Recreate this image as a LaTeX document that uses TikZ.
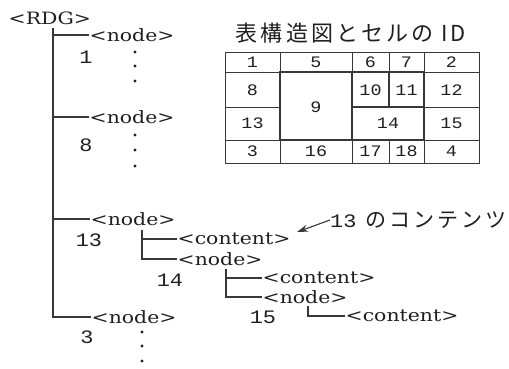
\documentclass[tikz,border=0pt]{standalone}
\usepackage{fontspec}
\usetikzlibrary{arrows.meta}
\newfontfamily\lblfont{DejaVu Serif}[FakeStretch=1.2]
\newfontfamily\digfont{Liberation Mono}[FakeStretch=1.15]
\newfontfamily\cjkfont{Noto Sans CJK JP}[LetterSpace=14]
\definecolor{ink}{gray}{0.12}
\definecolor{linec}{gray}{0.22}
\begin{document}
\begin{tikzpicture}[x=1pt,y=-1pt,
  tag/.style={inner sep=0.5pt, anchor=west, text=ink, font=\lblfont\fontsize{17}{20}\selectfont},
  num/.style={inner sep=0pt, text=ink, font=\digfont\fontsize{19}{22}\selectfont},
  cellnum/.style={inner sep=0pt, text=ink, font=\digfont\fontsize{16}{18}\selectfont},
  tree/.style={draw=linec, line width=1.1pt},
  gridline/.style={draw=linec, line width=1pt},
  thickgrid/.style={draw=linec, line width=2pt},
]
\useasboundingbox (0,0) rectangle (509,368);

% ---- tree ----
\node[tag] (rdg) at (8,18) {<RDG>};
\coordinate (k0) at (53,28);
\node[tag] (n1) at (89,35) {<node>};
\node[tag] (n8) at (89,117) {<node>};
\node[tag] (n13) at (90,219) {<node>};
\node[tag] (n3) at (91,317) {<node>};
\draw[tree] (k0) |- (n3.west);
\draw[tree] (k0 |- n1.west) -- (n1.west);
\draw[tree] (k0 |- n8.west) -- (n8.west);
\draw[tree] (k0 |- n13.west) -- (n13.west);

\node[num] (l1) at (86,57) {1};
\node[num] (l8) at (86,145) {8};
\node[num] (l13) at (89,240) {13};
\node[num] (l14) at (170,280) {14};
\node[num] (l15) at (263,317) {15};
\node[num] (l3) at (87,337) {3};

\coordinate (k13) at (142,230);
\node[tag] (c13) at (177,239) {<content>};
\node[tag] (n14) at (177,259) {<node>};
\draw[tree] (k13) |- (c13.west);
\draw[tree] (k13) |- (n14.west);

\coordinate (k14) at (226,269);
\node[tag] (c14) at (262,278) {<content>};
\node[tag] (n15) at (262,297) {<node>};
\draw[tree] (k14) |- (c14.west);
\draw[tree] (k14) |- (n15.west);

\coordinate (k15) at (308,306);
\node[tag] (c15) at (345,316) {<content>};
\draw[tree] (k15) |- (c15.west);

\foreach \y in {52,66,81} \fill[ink] (135,\y) circle (1.6pt);
\foreach \y in {135,150,166} \fill[ink] (135,\y) circle (1.6pt);
\foreach \y in {332,346,361} \fill[ink] (142,\y) circle (1.6pt);

% ---- annotation ----
\node[inner sep=0pt, anchor=west, text=ink] (note) at (330,220)
  {{\digfont\fontsize{19}{22}\selectfont 13}\hspace{9pt}{\cjkfont\fontsize{21}{22}\selectfont のコンテンツ}};
\coordinate (tip) at (297,232);
\draw[tree, -{Stealth[length=11pt,width=7pt]}] (note.west) -- (tip);

% ---- table ----
\node[inner sep=0pt, text=ink, font=\cjkfont\fontsize{22}{24}\selectfont] (title) at (351,33) {表構造図とセルの ID};

\draw[gridline] (225,52) rectangle (479,163);
\draw[gridline] (225,72) -- (479,72);
\draw[gridline] (225,140) -- (479,140);
\draw[gridline] (225,107) -- (280,107);
\draw[gridline] (424,107) -- (479,107);
\draw[gridline] (280,52) -- (280,163);
\draw[gridline] (352,52) -- (352,163);
\draw[gridline] (424,52) -- (424,163);
\draw[gridline] (389,52) -- (389,72);
\draw[gridline] (389,140) -- (389,163);
\draw[thickgrid] (280,72) rectangle (352,140);
\draw[thickgrid] (352,72) rectangle (424,140);
\draw[thickgrid] (389,72) -- (389,107);
\draw[thickgrid] (352,107) -- (424,107);

\node[cellnum] (t1) at (252.5,62) {1};
\node[cellnum] (t5) at (316,62) {5};
\node[cellnum] (t6) at (370.5,62) {6};
\node[cellnum] (t7) at (406.5,62) {7};
\node[cellnum] (t2) at (451.5,62) {2};
\node[cellnum] (t8) at (252.5,90) {8};
\node[cellnum] (t10) at (370.5,90) {10};
\node[cellnum] (t11) at (406.5,90) {11};
\node[cellnum] (t12) at (451.5,90) {12};
\node[cellnum] (t9) at (316,107) {9};
\node[cellnum] (t13) at (252.5,123.5) {13};
\node[cellnum] (t14) at (388,123.5) {14};
\node[cellnum] (t15) at (451.5,123.5) {15};
\node[cellnum] (t3) at (252.5,151.5) {3};
\node[cellnum] (t16) at (316,151.5) {16};
\node[cellnum] (t17) at (370.5,151.5) {17};
\node[cellnum] (t18) at (406.5,151.5) {18};
\node[cellnum] (t4) at (451.5,151.5) {4};
\end{tikzpicture}
\end{document}
